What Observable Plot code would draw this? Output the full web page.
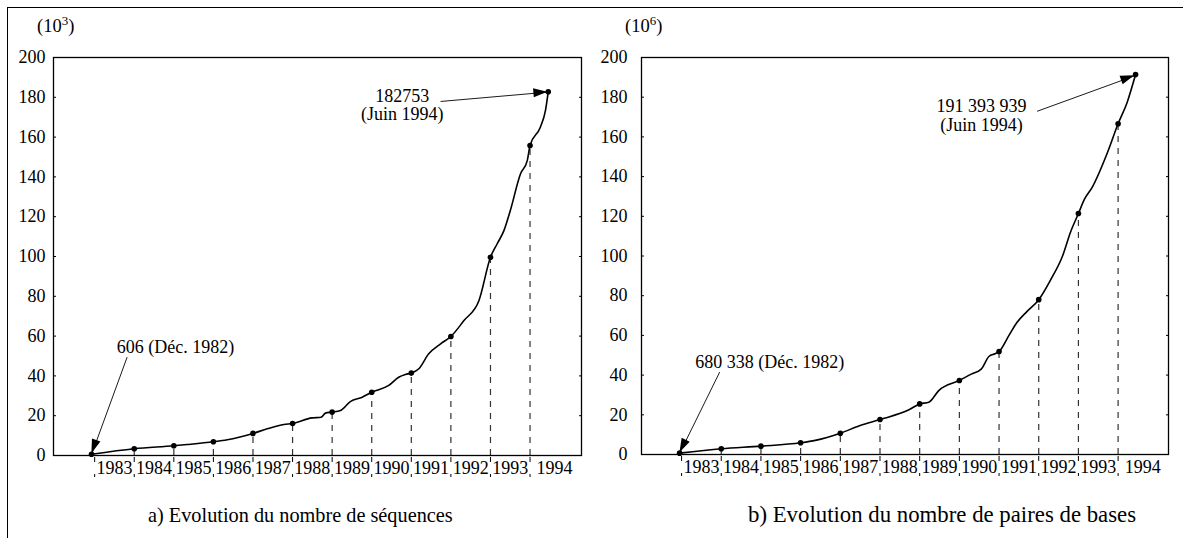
<!DOCTYPE html>
<html><head><meta charset="utf-8">
<script src="https://cdn.jsdelivr.net/npm/d3@7"></script>
<script src="https://cdn.jsdelivr.net/npm/@observablehq/plot@0.6"></script>
<style>
body{margin:0;background:#fff;}
#wrap{position:relative;width:1183px;height:538px;overflow:hidden;font-family:"Liberation Serif","Times New Roman",serif;color:#000;background:#fff;}
.bl{position:absolute;background:#000;}
.chart{position:absolute;top:0;}
.unit{position:absolute;font-size:18.5px;line-height:18px;white-space:nowrap;}
.unit sup{font-size:13px;vertical-align:7px;line-height:0;}
.cap{position:absolute;white-space:nowrap;}
</style></head><body>
<div id="wrap">
  <div class="bl" style="left:7px;top:7px;width:1176px;height:1px"></div>
  <div class="bl" style="left:7px;top:7px;width:1px;height:531px"></div>
  <div id="ca" class="chart" style="left:0"></div>
  <div id="cb" class="chart" style="left:600px"></div>
  <div class="unit" style="left:37px;top:17px">(10<sup>3</sup>)</div>
  <div class="unit" style="left:625px;top:17px">(10<sup>6</sup>)</div>
  <div class="cap" style="left:148px;top:505px;font-size:20.3px;line-height:21px">a) Evolution du nombre de séquences</div>
  <div class="cap" style="left:748px;top:503px;font-size:22.8px;line-height:23px">b) Evolution du nombre de paires de bases</div>
</div>
<script>
// ---------- data ----------
const yTicks = [0, 20, 40, 60, 80, 100, 120, 140, 160, 180, 200];
const yearStarts = [1983, 1984, 1985, 1986, 1987, 1988, 1989, 1990, 1991, 1992, 1993, 1994];
const yearLabels = ["1983","1984","1985","1986","1987","1988","1989","1990","1991","1992","1993","1994"];
const yearLabelPos = [1983.5, 1984.5, 1985.5, 1986.5, 1987.5, 1988.5, 1989.5, 1990.5, 1991.5, 1992.5, 1993.5, 1994.62];

// a) séquences (10^3)
const seqLineX = [1982.92,1984,1985,1985.33,1986,1986.35,1987,1987.36,1987.78,1988,1988.49,1988.72,1988.83,1989,1989.21,1989.46,1989.76,1990,1990.43,1990.68,1990.85,1991,1991.19,1991.44,1991.74,1992,1992.33,1992.71,1993,1993.17,1993.34,1993.5,1993.76,1993.93,1994,1994.26,1994.39,1994.46];
const seqLineY = [0.606,3.4,4.9,5.5,6.9,7.9,11.1,13.4,15.6,16.1,18.9,19.2,21.3,21.8,22.6,27.1,29.3,31.8,35.2,39.3,40.7,41.4,43.6,51.1,56.1,59.8,67.8,77.9,99.6,106.4,113,123,141.6,148.2,155.8,165,173.4,182.753];
const seqDotX = [1982.92,1984,1985,1986,1987,1988,1989,1990,1991,1992,1993,1994,1994.46];
const seqDotY = [0.606,3.4,4.9,6.9,11.1,16.1,21.8,31.8,41.4,59.8,99.6,155.8,182.753];
const seqAnnText = ["606 (Déc. 1982)", "182753\n(Juin 1994)"];
const seqAnnX = [1985.04, 1990.77];
const seqAnnY = [54.2, 176];
const seqArrowX1 = [1983.82, 1991.74];
const seqArrowY1 = [49.4, 177.9];
const seqArrowX2 = [1982.93, 1994.45];
const seqArrowY2 = [0.9, 182.6];

// b) paires de bases (10^6)
const bpLineX = [1982.95,1984,1985,1986,1986.37,1987,1987.5,1988,1988.73,1989,1989.23,1989.48,1990,1990.3,1990.55,1990.75,1990.9,1991,1991.25,1991.45,1991.7,1992,1992.3,1992.6,1992.8,1993,1993.15,1993.35,1993.72,1994,1994.23,1994.44];
const bpLineY = [0.680,2.9,4.2,5.9,7.1,10.7,14.6,17.6,22.5,25.5,26.3,32.2,37.3,40.5,43,49.5,50.8,51.9,60,66.5,72,78,88,100,112,121.4,128.5,134.7,151.5,166.6,177.5,191.394];
const bpDotX = [1982.95,1984,1985,1986,1987,1988,1989,1990,1991,1992,1993,1994,1994.44];
const bpDotY = [0.680,2.9,4.2,5.9,10.7,17.6,25.5,37.3,51.9,78,121.4,166.6,191.394];
const bpAnnText = ["680 338 (Déc. 1982)", "191 393 939\n(Juin 1994)"];
const bpAnnX = [1985.22, 1990.56];
const bpAnnY = [46.3, 170.8];
const bpArrowX1 = [1983.96, 1991.96];
const bpArrowY1 = [41.5, 172.9];
const bpArrowX2 = [1982.96, 1994.42];
const bpArrowY2 = [0.9, 190.8];

// ---------- build ----------
function zip(xs, ys) { return xs.map((x, i) => ({x, y: ys[i]})); }

function makeChart(cfg) {
  const line = zip(cfg.lineX, cfg.lineY);
  const dots = zip(cfg.dotX, cfg.dotY);
  const rules = dots.filter(d => yearStarts.includes(d.x));
  const ann = cfg.annText.map((t, i) => ({text: t, x: cfg.annX[i], y: cfg.annY[i], lh: cfg.lineHeights[i]}));
  const arrows = cfg.ax1.map((v, i) => ({x1: v, y1: cfg.ay1[i], x2: cfg.ax2[i], y2: cfg.ay2[i]}));
  const svg = Plot.plot({
    width: cfg.width, height: 538,
    marginLeft: cfg.ml, marginRight: cfg.mr, marginTop: 57, marginBottom: cfg.mb,
    style: {fontFamily: "'Liberation Serif','Times New Roman',serif", fontSize: "18px", color: "#000", background: "transparent", overflow: "visible"},
    x: {domain: cfg.xDomain},
    y: {domain: [0, 200]},
    marks: [
      Plot.ruleX(rules, {x: "x", y1: 0, y2: "y", stroke: "#333", strokeWidth: 1.2, strokeDasharray: "6,6"}),
      Plot.frame({stroke: "#000", strokeWidth: 1.3}),
      Plot.axisY({anchor: "left", ticks: yTicks, tickSize: 0, tickPadding: cfg.yPad, tickFormat: d => String(d), label: null, fontSize: 18}),
      Plot.axisY({anchor: "left", ticks: yTicks, tickSize: 3, dx: 3, tickFormat: () => "", label: null}),
      Plot.axisY({anchor: "right", ticks: yTicks, tickSize: 3, dx: -3, tickFormat: () => "", label: null}),
      Plot.axisX({ticks: yearStarts, tickSize: 22, strokeDasharray: "0,2,5,12,3,40", strokeWidth: 1, tickFormat: () => "", label: null}),
      Plot.axisX({ticks: yearLabelPos, tickSize: 0, tickPadding: 6, tickFormat: (d, i) => yearLabels[i], label: null, fontSize: 18}),
      Plot.line(line, {x: "x", y: "y", stroke: "#000", strokeWidth: 1.6, curve: "monotone-x"}),
      Plot.dot(dots, {x: "x", y: "y", r: 2.8, fill: "#000"}),
      Plot.link(arrows, {x1: "x1", y1: "y1", x2: "x2", y2: "y2", stroke: "#000", strokeWidth: 0.9}),
      ...ann.map(a => Plot.text([a], {x: "x", y: "y", text: "text", fontSize: 18, lineHeight: a.lh, fill: "#000"}))
    ]
  });
  // filled arrowheads, placed through the plot's own scales
  const sx = svg.scale("x"), sy = svg.scale("y");
  const ns = "http://www.w3.org/2000/svg";
  const g = document.createElementNS(ns, "g");
  for (const a of arrows) {
    const x1 = sx.apply(a.x1), y1 = sy.apply(a.y1), x2 = sx.apply(a.x2), y2 = sy.apply(a.y2);
    const L = Math.hypot(x2 - x1, y2 - y1), ux = (x2 - x1) / L, uy = (y2 - y1) / L;
    const len = 14, hw = 4.5;
    const bx = x2 - ux * len, by = y2 - uy * len;
    const p = document.createElementNS(ns, "polygon");
    p.setAttribute("points", `${x2},${y2} ${bx - uy * hw},${by + ux * hw} ${bx + uy * hw},${by - ux * hw}`);
    p.setAttribute("fill", "#000");
    g.appendChild(p);
  }
  svg.appendChild(g);
  return svg;
}

document.getElementById("ca").appendChild(makeChart({
  width: 600, ml: 53, mr: 19, mb: 83, yPad: 8, xDomain: [1981.96, 1995.3],
  lineX: seqLineX, lineY: seqLineY, dotX: seqDotX, dotY: seqDotY,
  annText: seqAnnText, annX: seqAnnX, annY: seqAnnY, lineHeights: [1, 1.0],
  ax1: seqArrowX1, ay1: seqArrowY1, ax2: seqArrowX2, ay2: seqArrowY2
}));
document.getElementById("cb").appendChild(makeChart({
  width: 583, ml: 41, mr: 15, mb: 84, yPad: 14, xDomain: [1981.99, 1995.27],
  lineX: bpLineX, lineY: bpLineY, dotX: bpDotX, dotY: bpDotY,
  annText: bpAnnText, annX: bpAnnX, annY: bpAnnY, lineHeights: [1, 1.02],
  ax1: bpArrowX1, ay1: bpArrowY1, ax2: bpArrowX2, ay2: bpArrowY2
}));
</script>
</body></html>
